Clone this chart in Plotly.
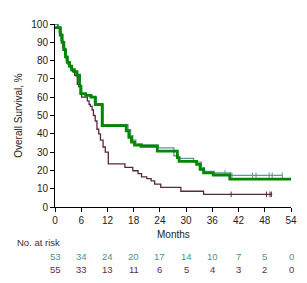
import plotly.graph_objects as go

# Thick green curve
t_green = [0, 1.2, 1.6, 2.0, 2.4, 2.8, 3.3, 3.8, 4.4, 5.0, 5.6, 5.9, 7.0, 8.2, 9.2, 10.8, 16.3, 16.9, 17.5, 18.2, 19.7, 23.4, 28.0, 28.4, 32.4, 33.2, 34.0, 36.2, 40.0, 54]
s_green = [98, 94, 90, 86, 82, 79, 77, 75, 74, 72, 66, 62, 61, 60, 56, 44.5, 41.6, 38, 35.4, 33.8, 33.2, 30.5, 27, 24.9, 23.3, 20.6, 18.7, 17.5, 15.2, 15.2]

# Thin teal curve
t_teal = [0, 0.8, 1.4, 1.8, 2.2, 2.6, 3.0, 3.5, 4.0, 4.6, 5.2, 5.8, 6.1, 7.2, 8.5, 9.5, 11.0, 16.7, 17.3, 17.8, 18.5, 20.0, 23.6, 27.2, 28.2, 31.7, 33.5, 34.2, 36.4, 40.2, 52]
s_teal = [100, 98, 94, 90, 86, 82, 79, 77, 75, 74, 72, 66, 62, 61, 60, 56, 45, 42.3, 39, 36.5, 34.5, 34, 32.3, 28, 26.6, 24.5, 21.5, 19.5, 18.7, 17.3, 17.3]
cens_t_teal = [38.9, 40.5, 45.2, 46.0, 49.0, 49.7, 52.0]
cens_s_teal = [18.7, 17.3, 17.3, 17.3, 17.3, 17.3, 17.3]

# Thin maroon curve
t_maroon = [0, 0.6, 1.0, 1.4, 1.8, 2.2, 2.6, 3.0, 3.5, 4.0, 4.5, 5.1, 5.8, 6.1, 7.4, 7.8, 8.1, 8.5, 8.8, 9.2, 9.6, 10.0, 10.4, 11.0, 11.5, 12.2, 16.0, 17.8, 19.0, 19.8, 21.0, 22.0, 22.8, 24.2, 28.8, 34.0, 49.7]
s_maroon = [100, 98, 95, 91, 87, 84, 80, 78, 76, 74, 72, 67, 62, 60, 58, 56, 55, 53, 50, 47, 42.5, 40, 36.5, 32.8, 30, 23.6, 21.7, 19.8, 18.2, 16.5, 15.5, 14.3, 12.5, 10.7, 8.6, 6.9, 6.9]
cens_t_maroon = [40.3, 48.4, 49.2, 49.5]
cens_s_maroon = [6.9, 6.9, 6.9, 6.9]

risk_months = [0, 6, 12, 18, 24, 30, 36, 42, 48, 54]
risk_teal = [53, 34, 24, 20, 17, 14, 10, 7, 5, 0]
risk_maroon = [55, 33, 13, 11, 6, 5, 4, 3, 2, 0]

x_ticks = [0, 6, 12, 18, 24, 30, 36, 42, 48, 54]
y_ticks = [0, 10, 20, 30, 40, 50, 60, 70, 80, 90, 100]

TEAL = "rgb(95,150,150)"
MAROON = "rgb(90,40,60)"
GREEN = "rgb(0,135,0)"
RISK_TEAL = "rgb(70,150,140)"
RISK_MAROON = "rgb(100,45,65)"

fig = go.Figure()
fig.add_trace(go.Scatter(x=t_maroon, y=s_maroon, mode="lines", line=dict(color=MAROON, width=1.3, shape="hv"), hoverinfo="skip"))
fig.add_trace(go.Scatter(x=cens_t_maroon, y=cens_s_maroon, mode="markers",
                         marker=dict(symbol="line-ns", size=4, line=dict(color=MAROON, width=1)), hoverinfo="skip"))
fig.add_trace(go.Scatter(x=t_teal, y=s_teal, mode="lines", line=dict(color=TEAL, width=1.3, shape="hv"), hoverinfo="skip"))
fig.add_trace(go.Scatter(x=cens_t_teal, y=cens_s_teal, mode="markers",
                         marker=dict(symbol="line-ns", size=4, line=dict(color=TEAL, width=1)), hoverinfo="skip"))
fig.add_trace(go.Scatter(x=t_green, y=s_green, mode="lines", line=dict(color=GREEN, width=2.8, shape="hv"), hoverinfo="skip"))

annotations = []
for m, v in zip(risk_months, risk_teal):
    annotations.append(dict(x=m, y=-0.27, xref="x", yref="paper", text=str(v), showarrow=False,
                            font=dict(size=9.5, color=RISK_TEAL), xanchor="center", yanchor="middle"))
for m, v in zip(risk_months, risk_maroon):
    annotations.append(dict(x=m, y=-0.339, xref="x", yref="paper", text=str(v), showarrow=False,
                            font=dict(size=9.5, color=RISK_MAROON), xanchor="center", yanchor="middle"))
annotations.append(dict(x=-0.17, y=-0.196, xref="paper", yref="paper", text="No. at risk", showarrow=False,
                        font=dict(size=9.5, color="#333"), xanchor="left", yanchor="middle"))
annotations.append(dict(x=0.5, y=-0.148, xref="paper", yref="paper", text="Months", showarrow=False,
                        font=dict(size=10, color="#222"), xanchor="center", yanchor="middle"))

# The page body has an 8px margin, so the figure is sized 8px smaller to fit the 307x283 window
fig.update_layout(
    width=299, height=275,
    margin=dict(l=46, r=13, t=10, b=76),
    paper_bgcolor="white", plot_bgcolor="white",
    showlegend=False,
    font=dict(family="Liberation Sans, Arial, sans-serif", size=10, color="#222"),
    annotations=annotations,
    xaxis=dict(range=[0, 54], tickvals=x_ticks, ticktext=[str(v) for v in x_ticks],
               showline=True, linecolor="black", linewidth=1, ticks="outside", ticklen=4,
               tickcolor="black", showgrid=False, zeroline=False, fixedrange=True,
               tickfont=dict(size=10, color="#222")),
    yaxis=dict(range=[0, 100], tickvals=y_ticks, ticktext=[str(v) for v in y_ticks],
               showline=True, linecolor="black", linewidth=1, ticks="outside", ticklen=4,
               tickcolor="black", showgrid=False, zeroline=False, fixedrange=True,
               title=dict(text="Overall Survival, %", font=dict(size=10, color="#222"), standoff=6),
               tickfont=dict(size=10, color="#222")),
)

fig.write_html("out.html")
